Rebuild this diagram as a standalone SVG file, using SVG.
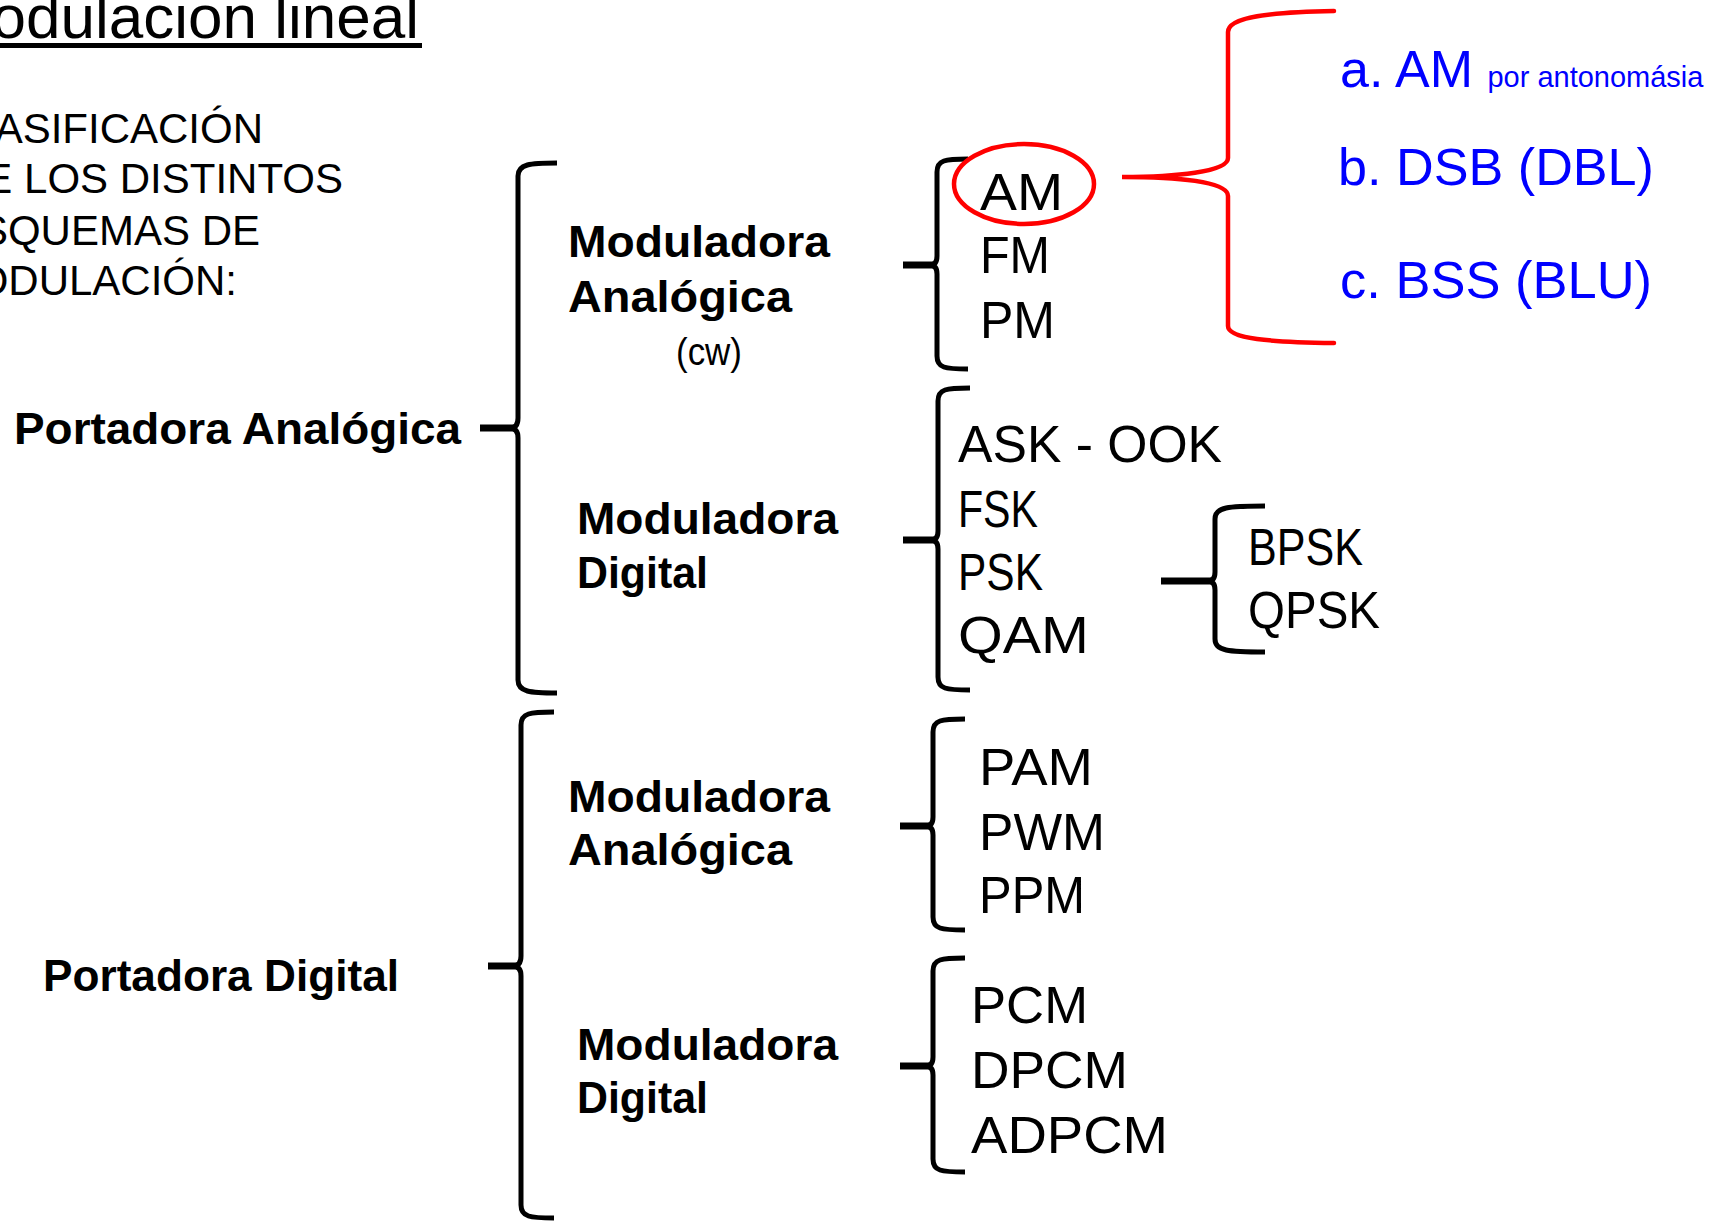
<svg xmlns="http://www.w3.org/2000/svg" width="1721" height="1226" viewBox="0 0 1721 1226">
<style>
.t{font-family:"Liberation Sans",Arial,sans-serif;fill:#000}
.b{font-family:"Liberation Sans",Arial,sans-serif;font-weight:bold;font-size:45px;fill:#000}
.g{font-family:"Liberation Sans",Arial,sans-serif;font-size:52px;fill:#000}
.bl{font-family:"Liberation Sans",Arial,sans-serif;fill:#0000ff}
.br{fill:none;stroke:#000;stroke-width:5;stroke-linecap:butt;stroke-linejoin:round}
.stub{fill:none;stroke:#000;stroke-width:7;stroke-linecap:butt}
.red{fill:none;stroke:#ff0000;stroke-width:4.5;stroke-linecap:round}
</style>
<rect width="1721" height="1226" fill="#fff"/>

<g id="title">
<text class="t" x="419" y="38" font-size="62" text-anchor="end">odulacion lineal</text>
<rect x="0" y="43" width="422" height="5" fill="#000"/>
</g>

<g id="intro" class="t" font-size="42" text-anchor="end">
<text x="263" y="143">ASIFICACIÓN</text>
<text x="343" y="193">E LOS DISTINTOS</text>
<text x="260" y="245">SQUEMAS DE</text>
<text x="237" y="295">ODULACIÓN:</text>
</g>

<g id="connectors">
<!-- Brace A -->
<path class="br" d="M557,163 C530,163 518,164 518,176 L518,418 Q518,428 510,428 Q518,428 518,438 L518,680 C518,692 530,693 557,693"/>
<path class="stub" d="M480,428 L514,428"/>
<!-- Brace B -->
<path class="br" d="M554,712 C530,712 521,713 521,725 L521,956 Q521,966 513,966 Q521,966 521,976 L521,1205 C521,1217 530,1218 554,1218"/>
<path class="stub" d="M488,966 L517,966"/>
<!-- Brace C -->
<path class="br" d="M968,159 C945,159 937,160 937,172 L937,256 Q937,265 930,265 Q937,265 937,274 L937,356 C937,368 945,369 968,369"/>
<path class="stub" d="M903,265 L933,265"/>
<!-- Brace D -->
<path class="br" d="M970,388 C946,388 938,389 938,401 L938,531 Q938,540 931,540 Q938,540 938,549 L938,677 C938,689 946,690 970,690"/>
<path class="stub" d="M903,540 L934,540"/>
<!-- Brace E -->
<path class="br" d="M1265,506 C1228,506 1215,507 1215,519 L1215,572 Q1215,581 1208,581 Q1215,581 1215,590 L1215,639 C1215,651 1228,652 1265,652"/>
<path class="stub" d="M1161,581 L1211,581"/>
<!-- Brace F -->
<path class="br" d="M965,719 C941,719 933,720 933,732 L933,817 Q933,826 926,826 Q933,826 933,835 L933,917 C933,929 941,930 965,930"/>
<path class="stub" d="M900,826 L929,826"/>
<!-- Brace G -->
<path class="br" d="M965,958 C941,958 933,959 933,971 L933,1057 Q933,1066 926,1066 Q933,1066 933,1075 L933,1159 C933,1171 941,1172 965,1172"/>
<path class="stub" d="M900,1066 L929,1066"/>
<!-- Red brace -->
<path class="red" d="M1334,11 C1270,12 1228,17 1228,32 L1228,158 C1228,172 1175,177 1122,177 C1175,177 1228,181 1228,196 L1228,326 C1228,339 1270,342 1334,343"/>
</g>

<g id="portadora-analogica"><text class="b" x="14" y="444" textLength="447" lengthAdjust="spacingAndGlyphs">Portadora Analógica</text></g>
<g id="portadora-digital"><text class="b" x="43" y="991" textLength="356" lengthAdjust="spacingAndGlyphs">Portadora Digital</text></g>

<g id="pa-mod-analogica">
<text class="b" x="568" y="257" textLength="262" lengthAdjust="spacingAndGlyphs">Moduladora</text>
<text class="b" x="568" y="312" textLength="224" lengthAdjust="spacingAndGlyphs">Analógica</text>
<text class="t" x="676" y="365" font-size="38" textLength="66" lengthAdjust="spacingAndGlyphs">(cw)</text>
</g>
<g id="pa-mod-digital">
<text class="b" x="577" y="534" textLength="261" lengthAdjust="spacingAndGlyphs">Moduladora</text>
<text class="b" x="577" y="588" textLength="131" lengthAdjust="spacingAndGlyphs">Digital</text>
</g>
<g id="pd-mod-analogica">
<text class="b" x="568" y="812" textLength="262" lengthAdjust="spacingAndGlyphs">Moduladora</text>
<text class="b" x="568" y="865" textLength="224" lengthAdjust="spacingAndGlyphs">Analógica</text>
</g>
<g id="pd-mod-digital">
<text class="b" x="577" y="1060" textLength="261" lengthAdjust="spacingAndGlyphs">Moduladora</text>
<text class="b" x="577" y="1113" textLength="131" lengthAdjust="spacingAndGlyphs">Digital</text>
</g>

<g id="cw-list">
<text class="g" x="980" y="210" textLength="83" lengthAdjust="spacingAndGlyphs">AM</text>
<text class="g" x="980" y="273" textLength="70" lengthAdjust="spacingAndGlyphs">FM</text>
<text class="g" x="980" y="338" textLength="75" lengthAdjust="spacingAndGlyphs">PM</text>
<ellipse cx="1024" cy="184" rx="70" ry="40" fill="none" stroke="#ff0000" stroke-width="4.5"/>
</g>

<g id="digital-list">
<text class="g" x="958" y="462" textLength="264" lengthAdjust="spacingAndGlyphs">ASK - OOK</text>
<text class="g" x="958" y="527" textLength="80" lengthAdjust="spacingAndGlyphs">FSK</text>
<text class="g" x="958" y="590" textLength="85" lengthAdjust="spacingAndGlyphs">PSK</text>
<text class="g" x="958" y="653" textLength="131" lengthAdjust="spacingAndGlyphs">QAM</text>
</g>

<g id="psk-list">
<text class="g" x="1248" y="565" textLength="115" lengthAdjust="spacingAndGlyphs">BPSK</text>
<text class="g" x="1248" y="628" textLength="132" lengthAdjust="spacingAndGlyphs">QPSK</text>
</g>

<g id="pulse-list">
<text class="g" x="979" y="785" textLength="114" lengthAdjust="spacingAndGlyphs">PAM</text>
<text class="g" x="979" y="850" textLength="126" lengthAdjust="spacingAndGlyphs">PWM</text>
<text class="g" x="979" y="913" textLength="106" lengthAdjust="spacingAndGlyphs">PPM</text>
</g>

<g id="pcm-list">
<text class="g" x="971" y="1023" textLength="117" lengthAdjust="spacingAndGlyphs">PCM</text>
<text class="g" x="971" y="1088" textLength="157" lengthAdjust="spacingAndGlyphs">DPCM</text>
<text class="g" x="971" y="1153" textLength="197" lengthAdjust="spacingAndGlyphs">ADPCM</text>
</g>

<g id="am-types">
<text class="bl" x="1340" y="87" font-size="52">a. AM <tspan font-size="29">por antonomásia</tspan></text>
<text class="bl" x="1338" y="185" font-size="52" textLength="316" lengthAdjust="spacingAndGlyphs">b. DSB (DBL)</text>
<text class="bl" x="1340" y="298" font-size="52" textLength="312" lengthAdjust="spacingAndGlyphs">c. BSS (BLU)</text>
</g>
</svg>
